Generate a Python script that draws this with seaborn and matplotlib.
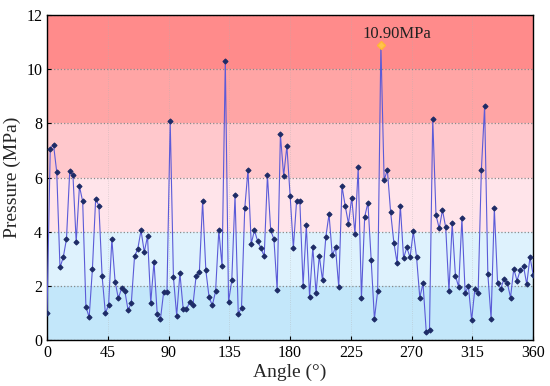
import numpy as np
import seaborn as sns
import matplotlib.pyplot as plt

# pressure readings (MPa), one every 2.4 degrees from 0 to 360
pressure = [
    1.00, 7.06, 7.22, 6.20, 2.68, 3.05, 3.73, 6.23, 6.09, 3.62,
    5.68, 5.12, 1.23, 0.84, 2.62, 5.21, 4.96, 2.35, 0.99, 1.30,
    3.73, 2.16, 1.54, 1.91, 1.81, 1.11, 1.36, 3.09, 3.37, 4.05,
    3.25, 3.83, 1.38, 2.88, 0.96, 0.78, 1.79, 1.77, 8.09, 2.32,
    0.90, 2.47, 1.15, 1.14, 1.40, 1.28, 2.37, 2.51, 5.13, 2.57,
    1.58, 1.28, 1.80, 4.05, 2.73, 10.32, 1.41, 2.20, 5.34, 0.95,
    1.20, 4.86, 6.28, 3.56, 4.05, 3.64, 3.40, 3.09, 6.09, 4.05,
    3.73, 1.85, 7.59, 6.07, 7.16, 5.33, 3.40, 5.15, 5.12, 2.01,
    4.23, 1.60, 3.43, 1.73, 3.12, 2.20, 3.79, 4.65, 3.13, 3.42,
    1.95, 5.68, 4.95, 4.30, 5.26, 3.92, 6.38, 1.55, 4.55, 5.07,
    2.97, 0.78, 1.80, 10.90, 5.91, 6.28, 4.73, 3.60, 2.85, 4.96,
    3.02, 3.42, 3.05, 4.01, 3.07, 1.57, 2.09, 0.30, 0.38, 8.17,
    4.62, 4.12, 4.80, 4.16, 1.80, 4.31, 2.37, 1.96, 4.49, 1.74,
    1.99, 0.73, 1.90, 1.74, 6.28, 8.63, 2.43, 0.79, 4.86, 2.11,
    1.90, 2.27, 2.11, 1.57, 2.64, 2.19, 2.58, 2.73, 2.06, 3.07,
    2.40,
]
angle = np.linspace(0, 360, len(pressure))

x_ticks = [0, 45, 90, 135, 180, 225, 270, 315, 360]
y_ticks = [0, 2, 4, 6, 8, 10, 12]

# background bands, bottom to top
band_edges = [0, 2, 4, 6, 8, 10, 12]
band_colors = ['#c3e7fa', '#def2fd', '#ffe4ea', '#ffc8cc', '#ffa5a5', '#ff8b8b']

sns.set_style('ticks', {'xtick.direction': 'in', 'ytick.direction': 'in'})
plt.rcParams['font.family'] = ['Liberation Serif', 'DejaVu Serif']

fig = plt.figure(figsize=(5.5, 3.86), dpi=100)
ax = fig.add_axes([0.0855, 0.119, 0.884, 0.842])

for lo, hi, c in zip(band_edges[:-1], band_edges[1:], band_colors):
    ax.axhspan(lo, hi, color=c, lw=0, zorder=0)

sns.lineplot(x=angle, y=pressure, ax=ax, color='#5b5bd8', lw=0.8,
             marker='D', markersize=2.6, markerfacecolor='#1d2b66',
             markeredgecolor='#1d2b66', zorder=3)

# mark the peak
i_max = int(np.argmax(pressure))
ax.plot(angle[i_max], pressure[i_max], marker='D', markersize=4.5,
        color='#ffc44d', markeredgecolor='#ffb833', zorder=4)
ax.annotate(f'{pressure[i_max]:.2f}MPa', (angle[i_max], pressure[i_max]),
            xytext=(-13.5, 5), textcoords='offset points',
            ha='left', va='baseline', fontsize=12, color='#222222')

ax.set_xlim(0, 360)
ax.set_ylim(0, 12)
ax.set_xticks(x_ticks)
ax.set_yticks(y_ticks)
ax.tick_params(labelsize=11.5, length=3, width=0.8, colors='black')
ax.yaxis.grid(True, linestyle=':', color='#8a8a8a', lw=0.9, zorder=1)
ax.xaxis.grid(True, linestyle=':', color='#b0b0b0', lw=0.6, alpha=0.5, zorder=1)
ax.set_axisbelow(True)
for s in ax.spines.values():
    s.set_color('black')
    s.set_linewidth(1.0)

ax.set_xlabel('Angle (°)', fontsize=14, labelpad=2)
ax.set_ylabel('Pressure (MPa)', fontsize=14, labelpad=4)

plt.savefig('out.png', dpi=100)
